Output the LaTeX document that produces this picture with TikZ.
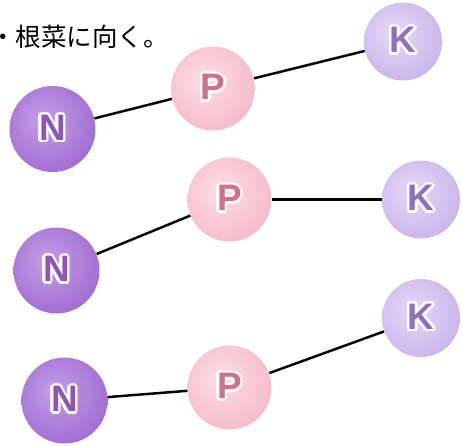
\documentclass[tikz,border=0pt]{standalone}
\usepackage{fontspec}
\usepackage{xcolor}
\usepackage{contour}
\usepackage{tikz}
\newfontfamily\jpfont{Noto Sans CJK JP}
\newfontfamily\ballfont{Liberation Sans}
\contourlength{1.4pt}
\definecolor{nlight}{RGB}{196,160,232}
\definecolor{nmid}{RGB}{164,112,212}
\definecolor{nedge}{RGB}{126,72,182}
\definecolor{ntext}{RGB}{140,86,178}
\definecolor{plight}{RGB}{253,222,230}
\definecolor{pmid}{RGB}{246,190,204}
\definecolor{pedge}{RGB}{230,152,172}
\definecolor{ptext}{RGB}{208,112,140}
\definecolor{klight}{RGB}{230,218,248}
\definecolor{kmid}{RGB}{204,184,236}
\definecolor{kedge}{RGB}{168,138,210}
\definecolor{ktext}{RGB}{142,112,188}
\pgfdeclareradialshading{nshade}{\pgfpoint{-6bp}{6bp}}{color(0bp)=(nlight); color(28bp)=(nmid); color(50bp)=(nedge); color(70bp)=(nedge)}
\pgfdeclareradialshading{pshade}{\pgfpoint{-6bp}{6bp}}{color(0bp)=(plight); color(28bp)=(pmid); color(50bp)=(pedge); color(70bp)=(pedge)}
\pgfdeclareradialshading{kshade}{\pgfpoint{-6bp}{6bp}}{color(0bp)=(klight); color(28bp)=(kmid); color(50bp)=(kedge); color(70bp)=(kedge)}

\begin{document}
\begin{tikzpicture}[x=0.02cm, y=-0.02cm,
  ball/.style={circle, inner sep=0pt, shade, font=\ballfont\bfseries\fontsize{21}{21}\selectfont},
  nball/.style={ball, shading=nshade, minimum size=1.72cm, text=ntext},
  pball/.style={ball, shading=pshade, minimum size=1.68cm, text=ptext},
  kball/.style={ball, shading=kshade, minimum size=1.56cm, text=ktext},
  link/.style={line width=1.4pt, black}]
  \useasboundingbox (0,0) rectangle (463,446);
  \node[anchor=west, inner sep=0pt, font=\jpfont\fontsize{14.5}{16}\selectfont] (note) at (-10,37) {・根菜に向く。};
  % row 1
  \node[nball] (n1) at (52.5,129) {\contour{white}{N}};
  \node[pball] (p1) at (213,88.5) {\contour{white}{P}};
  \node[kball] (k1) at (403,41.5) {\contour{white}{K}};
  % row 2
  \node[nball] (n2) at (56.5,270.5) {\contour{white}{N}};
  \node[pball] (p2) at (229.5,199.5) {\contour{white}{P}};
  \node[kball] (k2) at (421,199.5) {\contour{white}{K}};
  % row 3
  \node[nball] (n3) at (64.5,400.5) {\contour{white}{N}};
  \node[pball] (p3) at (229.5,387.5) {\contour{white}{P}};
  \node[kball] (k3) at (421,318) {\contour{white}{K}};
  \foreach \a/\b in {n1/p1,p1/k1,n2/p2,p2/k2,n3/p3,p3/k3} \draw[link] (\a) -- (\b);
\end{tikzpicture}
\end{document}
